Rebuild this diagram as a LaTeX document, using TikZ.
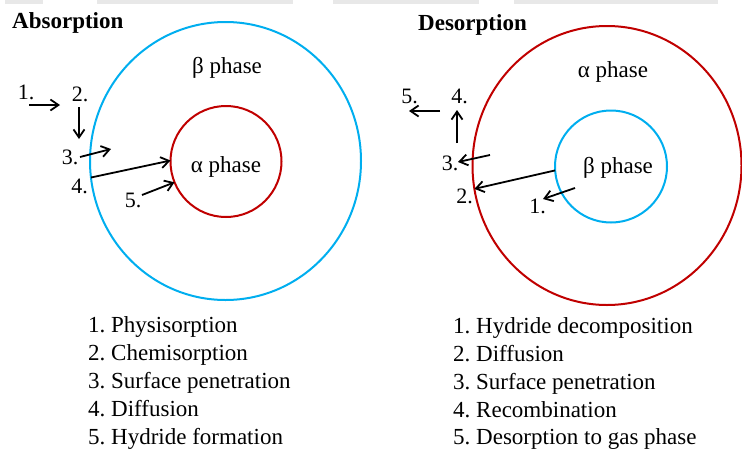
\documentclass[tikz,border=0pt]{standalone}
\usepackage{fontspec}
\setmainfont{Liberation Serif}
\usetikzlibrary{arrows.meta,shapes.geometric}
\definecolor{skyblue}{RGB}{0,174,239}
\definecolor{darkred}{RGB}{192,0,0}
\frenchspacing
\begin{document}
\begin{tikzpicture}[x=1pt,y=-1pt,
      >={Straight Barb[length=8pt,width=11pt]},
      phase/.style={draw, line width=2pt, inner sep=0pt, outer sep=0pt},
      bigphase/.style={phase, ellipse, minimum width=271pt, minimum height=278pt},
      smallphase/.style={phase, circle, minimum size=111pt},
      txt/.style={font=\fontsize{23}{28}\selectfont, inner sep=0pt, anchor=base},
      num/.style={font=\fontsize{22}{26}\selectfont, inner sep=0pt, anchor=base},
      title/.style={font=\fontsize{23}{28}\selectfont\bfseries, inner sep=0pt, anchor=base west},
      item/.style={font=\fontsize{23}{28}\selectfont, inner sep=0pt, anchor=base west},
      flow/.style={->, line width=1.8pt}]

    \useasboundingbox (0,0) rectangle (742,450);

    % page edge
    \fill[gray!18] (5,0) rectangle (43,4);
    \fill[gray!18] (97,0) rectangle (293,4);
    \fill[gray!18] (333,0) rectangle (479,4);
    \fill[gray!18] (514,0) rectangle (718,4);

    % absorption
    \node[title] (absT) at (12,28) {Absorption};
    \node[bigphase, draw=skyblue] (betaA) at (225.5,161) {};
    \node[smallphase, draw=darkred] (alphaA) at (226,161.5) {};
    \node[txt] (betaAT) at (227,73) {β phase};
    \node[txt] (alphaAT) at (226,172) {α phase};

    \node[num] (a1) at (26,99)    {1.};
    \node[num] (a2) at (80,101)   {2.};
    \node[num] (a3) at (70,164)   {3.};
    \node[num] (a4) at (79.5,193) {4.};
    \node[num] (a5) at (133,207)  {5.};

    \coordinate (a1s) at (29,105);
    \coordinate (a1e) at (60,105);
    \coordinate (a2s) at (79,107);
    \coordinate (a2e) at (79,139);
    \coordinate (a3s) at (80,157);
    \coordinate (a3e) at (111,149);
    \coordinate (a5s) at (142,195);

    \draw[flow] (a1s) -- (a1e);
    \draw[flow] (a2s) -- (a2e);
    \draw[flow] (a3s) -- (a3e);
    \draw[flow] (betaA.187.6) -- (alphaA.179);
    \draw[flow] (a5s) -- (alphaA.202);

    \node[item] (la1) at (88,332)   {1. Physisorption};
    \node[item] (la2) at (88,360.2) {2. Chemisorption};
    \node[item] (la3) at (88,388.4) {3. Surface penetration};
    \node[item] (la4) at (88,416.6) {4. Diffusion};
    \node[item] (la5) at (88,444.6) {5. Hydride formation};

    % desorption
    \node[title] (desT) at (418,30) {Desorption};
    \node[bigphase, draw=darkred, minimum width=269pt, minimum height=279pt] (alphaD) at (607,165.5) {};
    \node[smallphase, draw=skyblue, minimum size=112pt] (betaD) at (611,166.5) {};
    \node[txt] (alphaDT) at (613,77) {α phase};
    \node[txt] (betaDT) at (618,173) {β phase};

    \node[num] (d5) at (409.5,103) {5.};
    \node[num] (d4) at (459.5,103) {4.};
    \node[num] (d3) at (450,170)   {3.};
    \node[num] (d2) at (464.5,203) {2.};
    \node[num] (d1) at (537.5,213) {1.};

    \coordinate (d5s) at (440,111);
    \coordinate (d5e) at (409,111);
    \coordinate (d4s) at (457,143);
    \coordinate (d4e) at (457,110);
    \coordinate (d3s) at (490,155);
    \coordinate (d3e) at (458,162);
    \coordinate (d1s) at (575,188);
    \coordinate (d1e) at (543,199);

    \draw[flow] (d1s) -- (d1e);
    \draw[flow] (betaD.184) -- (alphaD.190);
    \draw[flow] (d3s) -- (d3e);
    \draw[flow] (d4s) -- (d4e);
    \draw[flow] (d5s) -- (d5e);

    \node[item] (ld1) at (453,333)   {1. Hydride decomposition};
    \node[item] (ld2) at (453,361)   {2. Diffusion};
    \node[item] (ld3) at (453,389)   {3. Surface penetration};
    \node[item] (ld4) at (453,417)   {4. Recombination};
    \node[item] (ld5) at (453,444.5) {5. Desorption to gas phase};
  \end{tikzpicture}
\end{document}
